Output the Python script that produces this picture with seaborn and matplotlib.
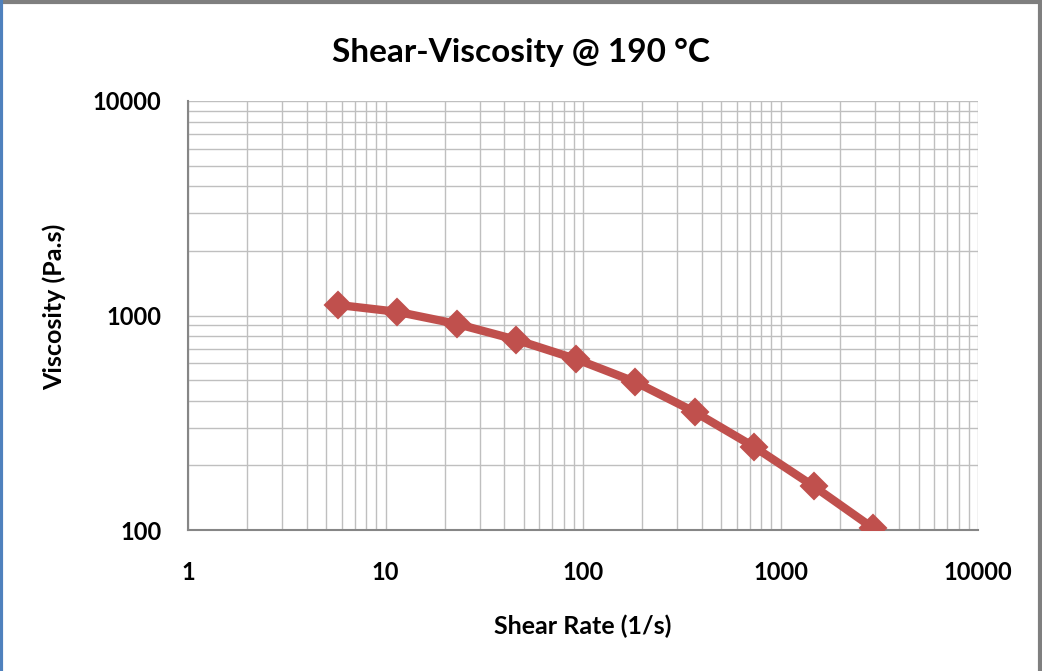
import numpy as np
import pandas as pd
import seaborn as sns
import matplotlib.pyplot as plt
from matplotlib.ticker import LogLocator, FixedLocator, NullFormatter
from matplotlib.lines import Line2D

shear_rate = [5.75, 11.5, 23, 46, 92, 184, 368, 736, 1472, 2944]
viscosity = [1120, 1040, 913, 770, 627, 490, 355, 244, 160, 102]

x_ticks = [1, 10, 100, 1000, 10000]
x_labels = ["1", "10", "100", "1000", "10000"]
y_ticks = [100, 1000, 10000]
y_labels = ["100", "1000", "10000"]

df = pd.DataFrame({"rate": shear_rate, "visc": viscosity})

sns.set_style("white")
plt.rcParams['font.family'] = ['Lato', 'DejaVu Sans']
plt.rcParams['text.color'] = 'black'
plt.rcParams['axes.labelcolor'] = 'black'
plt.rcParams['xtick.labelcolor'] = 'black'
plt.rcParams['ytick.labelcolor'] = 'black'

RED = "#C0504D"
GRID = "#BFBFBF"
AXIS = "#868686"

fig = plt.figure(figsize=(10.42, 6.71), dpi=100)
ax = fig.add_axes([188 / 1042, 1 - 530 / 671, 790 / 1042, 429 / 671])

sns.lineplot(
    data=df, x="rate", y="visc", ax=ax,
    color=RED, linewidth=6, marker="D", markersize=13,
    markeredgecolor=RED, markeredgewidth=1.5, zorder=5
)

ax.set_xscale("log")
ax.set_yscale("log")
ax.set_xlim(1, 10000)
ax.set_ylim(100, 10000)

ax.xaxis.set_major_locator(FixedLocator(x_ticks))
ax.yaxis.set_major_locator(FixedLocator(y_ticks))
ax.set_xticklabels(x_labels)
ax.set_yticklabels(y_labels)
ax.xaxis.set_minor_locator(LogLocator(base=10, subs=np.arange(2, 10)))
ax.yaxis.set_minor_locator(LogLocator(base=10, subs=np.arange(2, 10)))
ax.xaxis.set_minor_formatter(NullFormatter())
ax.yaxis.set_minor_formatter(NullFormatter())

ax.grid(True, which="both", color=GRID, linewidth=1.0)
ax.set_axisbelow(True)

for side in ["top", "right"]:
    ax.spines[side].set_visible(False)
for side in ["left", "bottom"]:
    ax.spines[side].set_color(AXIS)
    ax.spines[side].set_linewidth(1.5)

ax.tick_params(which="major", direction="inout", length=10, width=1.2,
               color=AXIS, labelsize=17)
ax.tick_params(axis="x", which="major", pad=17)
ax.tick_params(axis="y", which="major", pad=14)
ax.tick_params(which="minor", direction="inout", length=5, width=1.2, color=AXIS)
for lab in ax.get_xticklabels() + ax.get_yticklabels():
    lab.set_fontweight("bold")

ax.set_xlabel("Shear Rate (1/s)", fontsize=18, fontweight="bold", labelpad=22)
ax.set_ylabel("Viscosity (Pa.s)", fontsize=18, fontweight="bold", labelpad=19, y=0.52)
# title is centred on the whole chart, not the plot area
ax.set_title("Shear-Viscosity @ 190 °C", fontsize=24, fontweight="bold", pad=28,
             x=(521 - 188) / 790)

# chart border
fig.add_artist(Line2D([0, 1], [0.997, 0.997], color="#7F7F7F", lw=3, transform=fig.transFigure))
fig.add_artist(Line2D([0.998, 0.998], [0, 1], color="#7F7F7F", lw=3, transform=fig.transFigure))
fig.add_artist(Line2D([0.001, 0.001], [0, 1], color="#4F81BD", lw=3, transform=fig.transFigure))

fig.savefig("out.png", dpi=100)
plt.close(fig)
